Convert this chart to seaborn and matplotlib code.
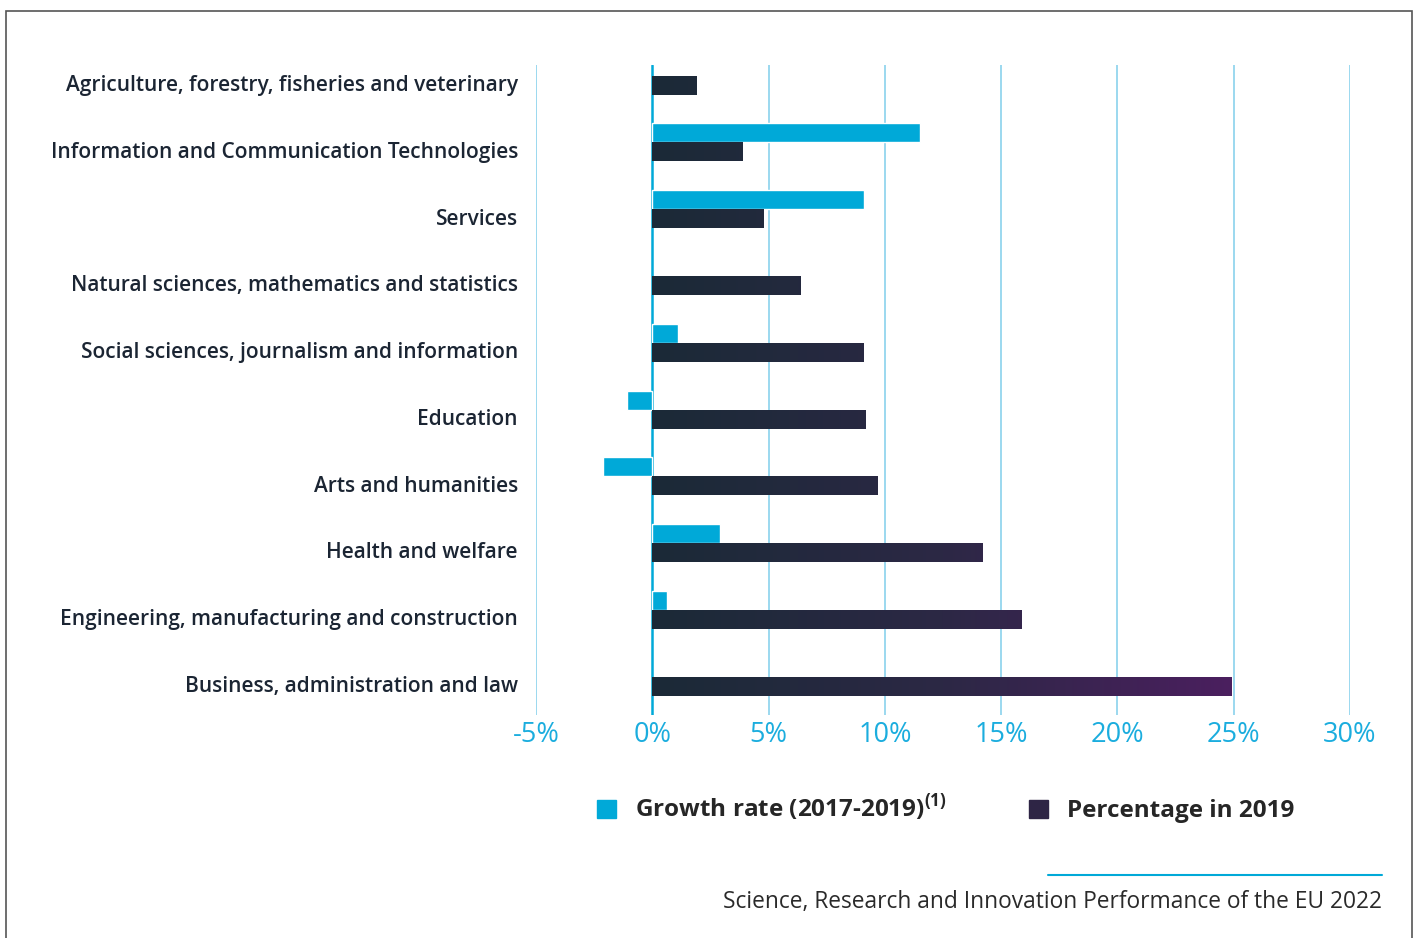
import matplotlib
matplotlib.use("Agg")
import matplotlib.pyplot as plt
import matplotlib.patches as mpatches
from matplotlib.colors import LinearSegmentedColormap
import numpy as np
import pandas as pd
import seaborn as sns

categories = ["Agriculture, forestry, fisheries and veterinary",
              "Information and Communication Technologies",
              "Services",
              "Natural sciences, mathematics and statistics",
              "Social sciences, journalism and information",
              "Education",
              "Arts and humanities",
              "Health and welfare",
              "Engineering, manufacturing and construction",
              "Business, administration and law"]
growth = [np.nan, 11.5, 9.1, np.nan, 1.1, -1.1, -2.1, 2.9, 0.65, np.nan]
pct_2019 = [1.9, 3.9, 4.8, 6.4, 9.1, 9.2, 9.7, 14.2, 15.9, 24.9]
series = ["Growth rate (2017-2019)$^{\\mathregular{(1)}}$", "Percentage in 2019"]
xticks = [-5, 0, 5, 10, 15, 20, 25, 30]

cyan = "#00a9d8"
grid_c = "#93d6ee"
text_c = "#1b2533"

df = pd.DataFrame({
    "cat": categories * 2,
    "val": growth + pct_2019,
    "series": [series[0]] * len(categories) + [series[1]] * len(categories),
})

sns.set_style("white")
plt.rcParams["font.family"] = ["Open Sans", "DejaVu Sans"]
plt.rcParams["mathtext.fontset"] = "custom"
plt.rcParams["mathtext.rm"] = "Open Sans:bold"

fig = plt.figure(figsize=(14.16, 9.38), dpi=100)
ax = fig.add_axes([536 / 1416, 1 - 715 / 938, 814 / 1416, 650 / 938])

sns.barplot(data=df, y="cat", x="val", hue="series", order=categories,
            hue_order=series, palette=[cyan, "#2b2742"], width=0.57,
            orient="h", ax=ax, legend=False, saturation=1)

# gradient fill on the percentage bars
cmap = LinearSegmentedColormap.from_list("g", ["#1b2a37", "#2c2845", "#4b1f5f"])
grad = np.linspace(0, 1, 256).reshape(1, -1)
for bar in ax.containers[1]:
    bar.set_edgecolor("none")
    im = ax.imshow(grad, cmap=cmap, aspect="auto", extent=[0, 25, 10, -1],
                   zorder=bar.get_zorder() + 0.1)
    im.set_clip_path(bar)

ax.set_xlim(-5, 30)
ax.set_ylim(9.575, -0.16)
ax.set_xticks(xticks)
ax.set_xticklabels([f"{t}%" for t in xticks], color="#1badde", fontsize=19.5)
ax.set_yticks(np.arange(len(categories)) + 0.11)
ax.set_yticklabels(categories, fontsize=15, fontweight="semibold", color=text_c)
ax.tick_params(axis="both", length=0)
ax.tick_params(axis="y", pad=13)
ax.tick_params(axis="x", pad=4)
ax.set_xlabel("")
ax.set_ylabel("")
for s in ax.spines.values():
    s.set_visible(False)
for t in xticks:
    ax.axvline(t, color=cyan if t == 0 else grid_c, lw=1.8 if t == 0 else 1.3, zorder=0)

handles = [mpatches.Patch(color=cyan, label=series[0]),
           mpatches.Patch(color="#2e2545", label=series[1])]
fig.legend(handles=handles, loc="center left", bbox_to_anchor=(575 / 1416, 1 - 808 / 938),
           ncol=2, frameon=False, handlelength=0.8, handleheight=0.8,
           columnspacing=3.4, handletextpad=0.75,
           prop={"weight": "bold", "size": 17.5})

fig.add_artist(plt.Line2D([1048 / 1416, 1382 / 1416], [1 - 875 / 938, 1 - 875 / 938],
                          color=cyan, lw=1.5))
fig.text(1382 / 1416, 1 - 902 / 938, "Science, Research and Innovation Performance of the EU 2022",
         ha="right", va="center", fontsize=16.4, color="#2a2a2a")
fig.add_artist(mpatches.Rectangle((6 / 1416, -0.05), 1406 / 1416, 1.05 - 11 / 938,
                                  fill=False, ec="#555555", lw=1.2))

fig.savefig("out.png", dpi=100)
